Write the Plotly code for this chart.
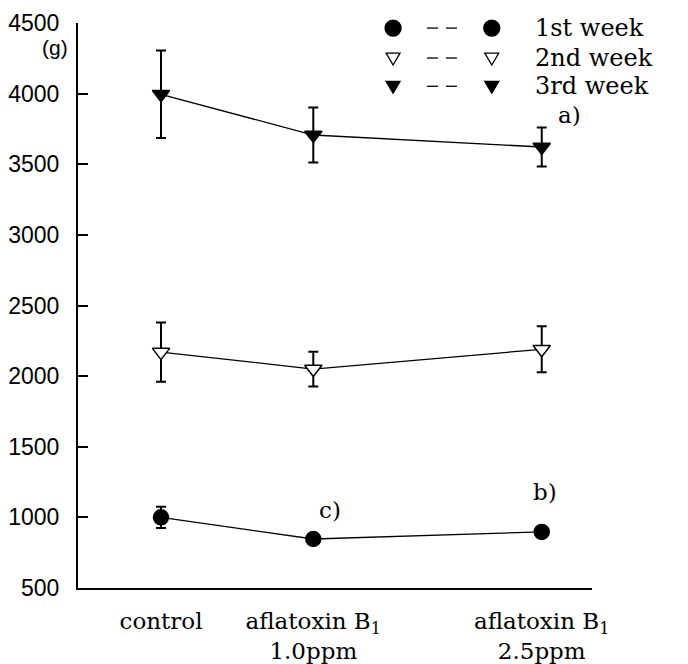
import plotly.graph_objects as go

# Data
dose = [0.0, 1.0, 2.5]
tick_labels = ["control", "aflatoxin B<sub>1</sub><br>1.0ppm", "aflatoxin B<sub>1</sub><br>2.5ppm"]
week1 = [1000, 847, 897]
week1_err = [75, 0, 0]
week2 = [2170, 2050, 2190]
week2_err = [209, 123, 163]
week3 = [3995, 3707, 3622]
week3_err = [310, 195, 138]
series_names = ["1st week", "2nd week", "3rd week"]
y_ticks = [500, 1000, 1500, 2000, 2500, 3000, 3500, 4000, 4500]

SERIF = "DejaVu Serif"
SANS = "Liberation Sans"

fig = go.Figure()

def add_series(y, err, symbol, fill):
    fig.add_trace(go.Scatter(
        x=dose, y=y, mode="lines+markers",
        line=dict(color="black", width=1.3),
        marker=dict(symbol=symbol, size=15, color=fill,
                    line=dict(color="black", width=1.5)),
        error_y=dict(type="data", array=err, visible=True,
                     color="black", thickness=2, width=5),
        showlegend=False,
    ))

add_series(week3, week3_err, "triangle-down", "black")
add_series(week2, week2_err, "triangle-down", "white")
add_series(week1, week1_err, "circle", "black")

fig.update_layout(
    width=688, height=664,
    margin=dict(l=78, r=96, t=23, b=76),
    paper_bgcolor="white", plot_bgcolor="white",
    xaxis=dict(range=[-0.545, 2.83], showline=True, linecolor="black", linewidth=1.5,
               showgrid=False, zeroline=False, ticks="", automargin=False,
               tickvals=dose, ticktext=tick_labels,
               tickfont=dict(family=SERIF, size=23, color="black"),
               ticklabelstandoff=12),
    yaxis=dict(range=[500, 4500], showline=True, linecolor="black", linewidth=2,
               showgrid=False, zeroline=False, ticks="inside", ticklen=10,
               tickwidth=1.5, tickcolor="black", tickvals=y_ticks, automargin=False,
               tickfont=dict(family=SANS, size=23, color="black"),
               ticklabelstandoff=12),
)

# unit label
fig.add_annotation(text="(g)", xref="paper", yref="y", x=0, y=4330, xanchor="right",
                   xshift=-8, showarrow=False, font=dict(family=SANS, size=21, color="black"))

# significance letters
for txt, xv, yv in [("a)", 2.68, 3852), ("b)", 2.52, 1180), ("c)", 1.11, 1053)]:
    fig.add_annotation(text=txt, x=xv, y=yv, showarrow=False,
                       font=dict(family=SERIF, size=23, color="black"))

# legend drawn manually: marker -- marker  label
rows_y = [0.991, 0.938, 0.888]
col_m1, col_dash, col_m2, col_txt = 0.613, 0.710, 0.805, 0.885
tri = "M -7,5 L 7,5 L 0,-7 Z"
for i, name in enumerate(series_names):
    yy = rows_y[i]
    for cx in (col_m1, col_m2):
        base = dict(xref="paper", yref="paper", xsizemode="pixel", ysizemode="pixel",
                    xanchor=cx, yanchor=yy, line=dict(color="black", width=1.3))
        if i == 0:
            fig.add_shape(type="circle", x0=-8, x1=8, y0=-8, y1=8, fillcolor="black", **base)
        else:
            fig.add_shape(type="path", path=tri,
                          fillcolor="black" if i == 2 else "white", **base)
    for dx0, dx1 in ((-16, -5), (3, 14)):
        fig.add_shape(type="line", xref="paper", yref="paper", xsizemode="pixel",
                      ysizemode="pixel", xanchor=col_dash, yanchor=yy,
                      x0=dx0, x1=dx1, y0=0, y1=0, line=dict(color="black", width=1.3))
    fig.add_annotation(text=name, xref="paper", yref="paper", x=col_txt, y=yy,
                       xanchor="left", yanchor="middle", showarrow=False,
                       font=dict(family=SERIF, size=24, color="black"))

fig.write_html("out.html")
